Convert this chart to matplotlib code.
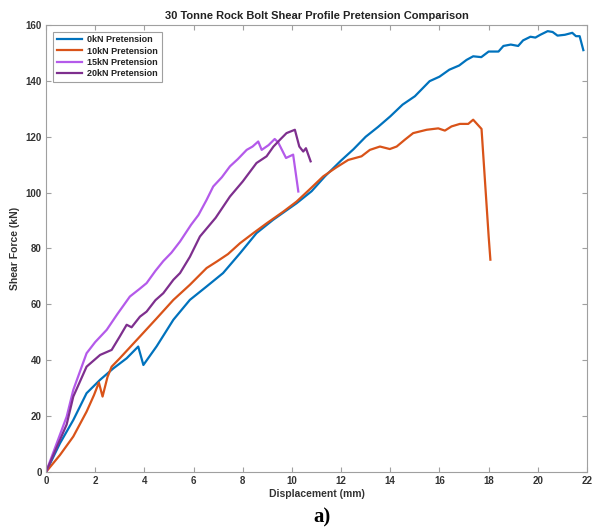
import matplotlib
matplotlib.use('Agg')
import matplotlib.pyplot as plt

# Shear force vs displacement for each pretension level
disp_0kn = [0, 0.57, 1.11, 1.65, 2.2, 2.74, 3.28, 3.75, 3.96, 4.5, 5.18, 5.85, 6.53,
            7.2, 7.89, 8.56, 9.24, 10.19, 10.8, 11.34, 12.0, 12.5, 13.0, 13.5, 14.0,
            14.5, 15.0, 15.6, 16.0, 16.4, 16.8, 17.1, 17.37, 17.7, 18.0, 18.4, 18.6,
            18.9, 19.2, 19.4, 19.7, 19.9, 20.1, 20.4, 20.6, 20.8, 21.1, 21.4, 21.55,
            21.7, 21.85]
force_0kn = [0, 10.3, 18.6, 28.2, 33, 37.1, 40.7, 44.9, 38.3, 45, 54.5, 61.6, 66.4,
             71.2, 78.3, 85.5, 90.3, 96.2, 100.5, 105.8, 111.5, 115.5, 120, 123.5, 127.3,
             131.5, 134.5, 139.9, 141.5, 144, 145.5, 147.5, 148.8, 148.5, 150.5, 150.5, 152.5,
             153, 152.5, 154.5, 155.8, 155.5, 156.5, 157.8, 157.5, 156.2, 156.5, 157.2, 156,
             156, 151]

disp_10kn = [0, 0.57, 1.11, 1.65, 1.95, 2.15, 2.3, 2.5, 2.67, 3.0, 3.82, 4.5, 5.18,
             5.85, 6.53, 6.94, 7.4, 7.89, 8.43, 8.97, 9.65, 10.19, 10.7, 11.27, 11.8,
             12.29, 12.83, 13.17, 13.58, 13.98, 14.26, 14.6, 14.93, 15.48, 15.95, 16.22,
             16.49, 16.83, 17.17, 17.37, 17.71, 18.0, 18.07]
force_10kn = [0, 6.1, 12.7, 21.6, 27.5, 32, 27, 34, 37.7, 40.7, 48.5, 55, 61.6,
              67, 73, 75.3, 78, 81.9, 85.5, 89, 93.2, 96.8, 101, 105.8, 109,
              111.7, 113, 115.3, 116.5, 115.6, 116.5, 119, 121.3, 122.5, 123, 122.2,
              123.7, 124.6, 124.6, 126.1, 122.8, 84.3, 76]

disp_15kn = [0, 0.84, 1.11, 1.65, 2.0, 2.47, 2.9, 3.41, 3.8, 4.09, 4.45, 4.77, 5.1,
             5.45, 5.9, 6.2, 6.53, 6.8, 7.15, 7.48, 7.8, 8.16, 8.4, 8.63, 8.77, 9.05,
             9.3, 9.44, 9.76, 10.05, 10.26]
force_15kn = [0, 19.8, 29.4, 42.5, 46.5, 50.9, 56.5, 62.8, 65.5, 67.6, 72, 75.5, 78.5,
              82.5, 88.5, 92, 97.4, 102.2, 105.5, 109.4, 112, 115.3, 116.5, 118.3, 115.3, 117,
              119.2, 118, 112.4, 113.6, 100.4]

disp_20kn = [0, 0.84, 1.11, 1.65, 2.2, 2.67, 3.0, 3.28, 3.48, 3.82, 4.09, 4.45, 4.77,
             5.18, 5.45, 5.85, 6.26, 6.9, 7.48, 8.0, 8.56, 8.97, 9.25, 9.51, 9.78,
             10.12, 10.3, 10.46, 10.57, 10.76]
force_20kn = [0, 17, 27, 37.7, 41.9, 43.7, 48.5, 52.7, 51.8, 55.6, 57.4, 61.5, 64,
              68.8, 71.2, 77, 84.3, 91, 98.6, 104, 110.6, 113, 116.5, 118.9, 121.3,
              122.5, 116.5, 114.7, 115.9, 111.2]

labels = ['0kN Pretension', '10kN Pretension', '15kN Pretension', '20kN Pretension']
colors = ['#0072BD', '#D95319', '#B45AEA', '#7E2F8E']

x_ticks = list(range(0, 23, 2))
y_ticks = list(range(0, 161, 20))

plt.rcParams['font.family'] = ['Liberation Sans', 'DejaVu Sans']
plt.rcParams['font.weight'] = 'bold'

fig = plt.figure(figsize=(5.92, 5.32), dpi=100)
ax = fig.add_axes([0.0777, 0.1128, 0.9139, 0.8402])

series = [(disp_0kn, force_0kn), (disp_10kn, force_10kn),
          (disp_15kn, force_15kn), (disp_20kn, force_20kn)]
for (xs, ys), lab, col in zip(series, labels, colors):
    ax.plot(xs, ys, color=col, linewidth=1.6, label=lab)

ax.set_xlim(0, 22)
ax.set_ylim(0, 160)
ax.set_xticks(x_ticks)
ax.set_yticks(y_ticks)

for side in ['top', 'right', 'bottom', 'left']:
    ax.spines[side].set_color('#a0a0a0')
    ax.spines[side].set_linewidth(0.8)
ax.tick_params(direction='in', length=3.5, width=0.8, color='#a0a0a0',
               top=True, right=True, labelsize=7, labelcolor='#333333', pad=3)
for lbl in ax.get_xticklabels() + ax.get_yticklabels():
    lbl.set_fontweight('bold')

ax.set_title('30 Tonne Rock Bolt Shear Profile Pretension Comparison',
             fontsize=8, fontweight='bold', color='#222222', pad=4)
ax.set_xlabel('Displacement (mm)', fontsize=7.5, fontweight='bold', color='#333333', labelpad=2)
ax.set_ylabel('Shear Force (kN)', fontsize=7.5, fontweight='bold', color='#333333', labelpad=4)

leg = ax.legend(loc='upper left', bbox_to_anchor=(0.013, 0.985), borderaxespad=0,
                fontsize=6.5, fancybox=False, edgecolor='#a0a0a0', framealpha=1,
                handlelength=2.8, labelspacing=0.25, borderpad=0.4, handletextpad=0.6)
leg.get_frame().set_linewidth(0.8)
for t in leg.get_texts():
    t.set_fontweight('bold')
    t.set_color('#222222')

fig.text(0.544, 0.008, 'a)', fontsize=15, fontweight='bold', family='Liberation Serif',
         ha='center', va='bottom', color='black')

fig.savefig('out.png', dpi=100)
